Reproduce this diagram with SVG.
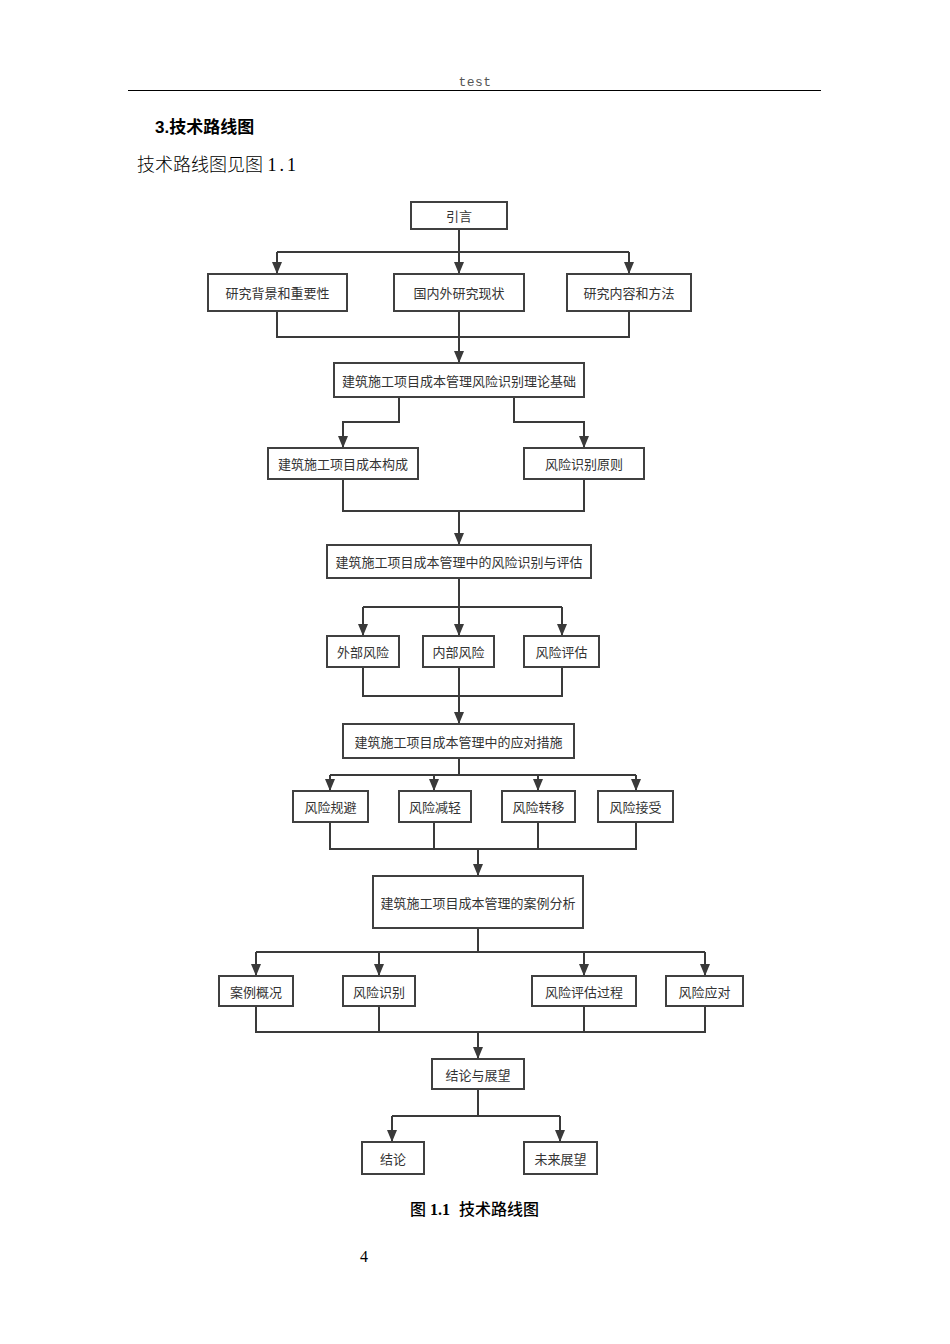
<svg xmlns="http://www.w3.org/2000/svg" width="950" height="1344" viewBox="0 0 950 1344">
<defs>
<marker id="arr" markerUnits="userSpaceOnUse" markerWidth="14" markerHeight="14" viewBox="0 0 14 14" refX="12" refY="7" orient="auto">
<path d="M0,2 L12,7 L0,12 Z" fill="#3a3a3a"/>
</marker>
<style>
.box{fill:#fff;stroke:#404040;stroke-width:2}
.lbl{font-family:"Noto Sans CJK SC","Noto Sans",sans-serif;font-size:13px;fill:#333;text-anchor:middle;dominant-baseline:central}
.ln{fill:none;stroke:#3a3a3a;stroke-width:2}
.ar{fill:none;stroke:#3a3a3a;stroke-width:2;marker-end:url(#arr)}
</style>
</defs>
<rect width="950" height="1344" fill="#fff"/>
<g id="header">
<text x="475" y="86" font-family="Liberation Mono, monospace" font-size="13" fill="#555" text-anchor="middle" letter-spacing="0.5">test</text>
<line x1="128" y1="90.5" x2="821" y2="90.5" stroke="#000" stroke-width="1.2"/>
<text x="155" y="133" font-family="Liberation Sans, 'Noto Sans CJK SC', sans-serif" font-size="17" font-weight="bold" fill="#000">3.技术路线图</text>
<text x="137" y="171" font-family="Liberation Serif, 'Noto Sans CJK SC', serif" font-size="18" fill="#000" font-weight="300">技术路线图见图 <tspan letter-spacing="3">1.1</tspan></text>
</g>
<g id="connectors">
<path class="ln" d="M459,229 V252 M277,252 H629"/>
<path class="ar" d="M277,252 V274"/>
<path class="ar" d="M459,252 V274"/>
<path class="ar" d="M629,252 V274"/>
<path class="ln" d="M277,311 V337 H629 V311"/>
<path class="ar" d="M459,311 V363"/>
<path class="ar" d="M399,397 V422 H343 V448"/>
<path class="ar" d="M514,397 V422 H584 V448"/>
<path class="ln" d="M343,479 V511 H584 V479"/>
<path class="ar" d="M459,511 V545"/>
<path class="ln" d="M459,578 V607 M363,607 H562"/>
<path class="ar" d="M363,607 V636"/>
<path class="ar" d="M459,607 V636"/>
<path class="ar" d="M562,607 V636"/>
<path class="ln" d="M363,667 V696 H562 V667"/>
<path class="ar" d="M459,667 V724"/>
<path class="ln" d="M459,758 V775 M330,775 H636"/>
<path class="ar" d="M330,775 V791"/>
<path class="ar" d="M434,775 V791"/>
<path class="ar" d="M538,775 V791"/>
<path class="ar" d="M636,775 V791"/>
<path class="ln" d="M330,822 V849 H636 V822 M434,822 V849 M538,822 V849"/>
<path class="ar" d="M478,849 V876"/>
<path class="ln" d="M478,928 V952 M256,952 H705"/>
<path class="ar" d="M256,952 V976"/>
<path class="ar" d="M379,952 V976"/>
<path class="ar" d="M584,952 V976"/>
<path class="ar" d="M705,952 V976"/>
<path class="ln" d="M256,1006 V1032 H705 V1006 M379,1006 V1032 M584,1006 V1032"/>
<path class="ar" d="M478,1032 V1059"/>
<path class="ln" d="M478,1089 V1116 M392,1116 H560"/>
<path class="ar" d="M392,1116 V1142"/>
<path class="ar" d="M560,1116 V1142"/>
</g>
<g id="n1"><rect class="box" x="411" y="202" width="96" height="27"/><text class="lbl" x="459" y="215.5">引言</text></g>
<g id="n2"><rect class="box" x="208" y="274" width="139" height="37"/><text class="lbl" x="277.5" y="292.5">研究背景和重要性</text></g>
<g id="n3"><rect class="box" x="394" y="274" width="130" height="37"/><text class="lbl" x="459" y="292.5">国内外研究现状</text></g>
<g id="n4"><rect class="box" x="567" y="274" width="124" height="37"/><text class="lbl" x="629" y="292.5">研究内容和方法</text></g>
<g id="n5"><rect class="box" x="334" y="363" width="250" height="34"/><text class="lbl" x="459" y="380">建筑施工项目成本管理风险识别理论基础</text></g>
<g id="n6"><rect class="box" x="268" y="448" width="150" height="31"/><text class="lbl" x="343" y="463.5">建筑施工项目成本构成</text></g>
<g id="n7"><rect class="box" x="524" y="448" width="120" height="31"/><text class="lbl" x="584" y="463.5">风险识别原则</text></g>
<g id="n8"><rect class="box" x="327" y="545" width="264" height="33"/><text class="lbl" x="459" y="561.5">建筑施工项目成本管理中的风险识别与评估</text></g>
<g id="n9"><rect class="box" x="327" y="636" width="72" height="31"/><text class="lbl" x="363" y="651.5">外部风险</text></g>
<g id="n10"><rect class="box" x="423" y="636" width="71" height="31"/><text class="lbl" x="458.5" y="651.5">内部风险</text></g>
<g id="n11"><rect class="box" x="524" y="636" width="75" height="31"/><text class="lbl" x="561.5" y="651.5">风险评估</text></g>
<g id="n12"><rect class="box" x="343" y="724" width="231" height="34"/><text class="lbl" x="458.5" y="741">建筑施工项目成本管理中的应对措施</text></g>
<g id="n13"><rect class="box" x="293" y="791" width="75" height="31"/><text class="lbl" x="330.5" y="806.5">风险规避</text></g>
<g id="n14"><rect class="box" x="399" y="791" width="72" height="31"/><text class="lbl" x="435" y="806.5">风险减轻</text></g>
<g id="n15"><rect class="box" x="502" y="791" width="73" height="31"/><text class="lbl" x="538.5" y="806.5">风险转移</text></g>
<g id="n16"><rect class="box" x="598" y="791" width="75" height="31"/><text class="lbl" x="635.5" y="806.5">风险接受</text></g>
<g id="n17"><rect class="box" x="373" y="876" width="210" height="52"/><text class="lbl" x="478" y="902">建筑施工项目成本管理的案例分析</text></g>
<g id="n18"><rect class="box" x="219" y="976" width="74" height="30"/><text class="lbl" x="256" y="991">案例概况</text></g>
<g id="n19"><rect class="box" x="343" y="976" width="72" height="30"/><text class="lbl" x="379" y="991">风险识别</text></g>
<g id="n20"><rect class="box" x="532" y="976" width="104" height="30"/><text class="lbl" x="584" y="991">风险评估过程</text></g>
<g id="n21"><rect class="box" x="666" y="976" width="77" height="30"/><text class="lbl" x="704.5" y="991">风险应对</text></g>
<g id="n22"><rect class="box" x="432" y="1059" width="92" height="30"/><text class="lbl" x="478" y="1074">结论与展望</text></g>
<g id="n23"><rect class="box" x="362" y="1142" width="62" height="32"/><text class="lbl" x="393" y="1158">结论</text></g>
<g id="n24"><rect class="box" x="524" y="1142" width="73" height="32"/><text class="lbl" x="560.5" y="1158">未来展望</text></g>
<g id="caption">
<text x="410" y="1215" font-family="Liberation Serif, 'Noto Sans CJK SC', serif" font-size="16" fill="#000" font-weight="500">图 <tspan font-weight="bold">1.1</tspan><tspan x="459">技术路线图</tspan></text>
<text x="364" y="1262" font-family="Liberation Serif, serif" font-size="16" fill="#000" text-anchor="middle">4</text>
</g>
</svg>
